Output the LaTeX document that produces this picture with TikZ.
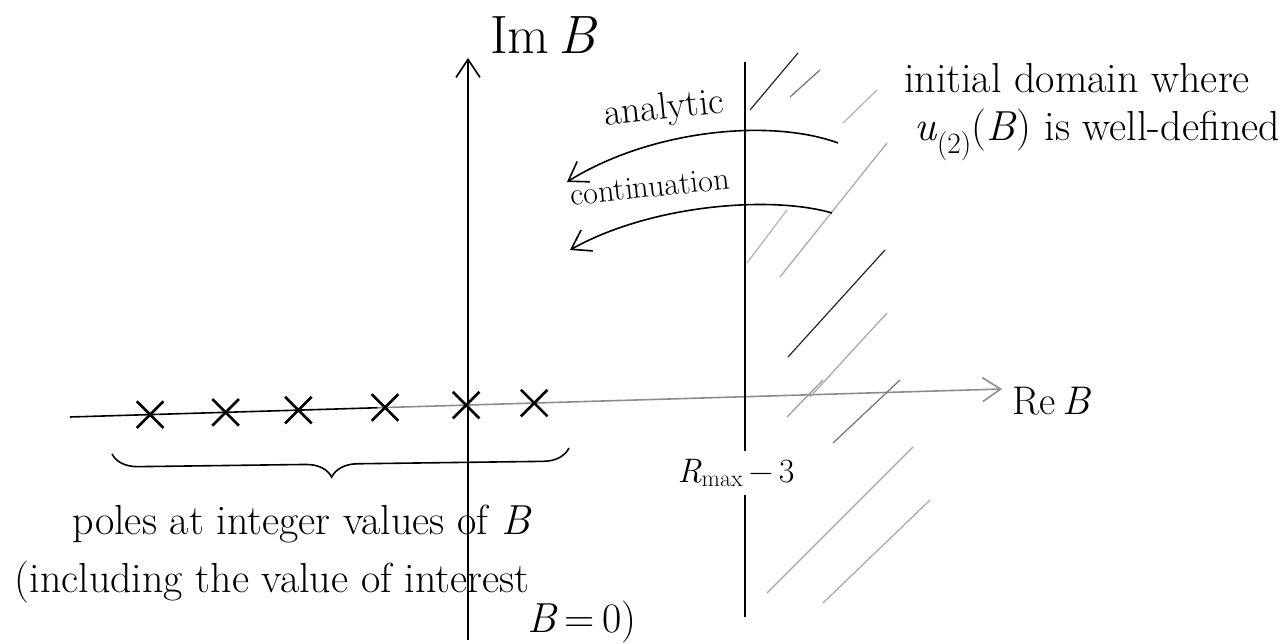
\documentclass[tikz,border=0pt]{standalone}
\usetikzlibrary{arrows.meta,shapes.misc,decorations.pathreplacing}
\tikzset{
  pen/.style={line width=1.6pt},
  barb/.style={-{Straight Barb[length=18pt,width=24pt,line width=1.6pt]}},
  pole/.style={cross out, draw, line width=2.6pt, minimum size=24pt, inner sep=0pt},
  hatch/.style={line width=1.2pt},
  hand/.style={font=\fontsize{42}{46}\selectfont, inner sep=0pt},
}
\newcommand{\vb}{\textit{B}}
\begin{document}
\begin{tikzpicture}[x=1pt,y=1pt]
\useasboundingbox (0,0) rectangle (1287,644);

% axes
\coordinate (imlo) at (468,4);
\coordinate (imhi) at (468,586);
\coordinate (relo) at (70,227);
\coordinate (rehi) at (1002,255);
\path (relo) -- (rehi) coordinate[pos=0.33] (remid);
\draw[pen,barb] (imlo) -- (imhi);
\draw[pen] (relo) -- (remid);
\draw[pen,black!45,barb] (remid) -- (rehi);
\node[hand,font=\fontsize{54}{58}\selectfont,anchor=west] (imlab) at (490,609) {Im\,\vb};
\node[hand,font=\fontsize{40}{44}\selectfont,anchor=west] (relab) at (1012,243) {Re\,\vb};

% poles on the real axis
\foreach \p [count=\i] in {0.086,0.167,0.245,0.338,0.425,0.498}
  \path (relo) -- (rehi) node[pole,pos=\p] (p\i) {};

% initial domain boundary
\coordinate (vtop) at (745,582);
\coordinate (vbot) at (745,27);
\node[hand,font=\fontsize{34}{38}\selectfont,inner sep=8pt] (rlab) at (736,171) {\textit{R}\textsubscript{max}\,−\,3};
\draw[pen] (vtop) -- (vtop |- rlab.north);
\draw[pen] (vbot) -- (vbot |- rlab.south);

% hatching
\foreach \xa/\ya/\xb/\yb/\s in {750/534/798/591/85, 790/547/820/574/55,
    843/521/877/554/30, 780/367/887/501/35, 747/381/787/434/30,
    788/287/885/394/85, 810/247/887/331/35, 787/227/823/264/40,
    833/201/900/264/55, 767/51/913/197/35, 823/41/930/144/35}
  \draw[hatch,black!\s] (\xa,\ya) -- (\xb,\yb);

% continuation arrows
\coordinate (a1s) at (838,501);
\coordinate (a1e) at (567,462);
\coordinate (a2s) at (832,431);
\coordinate (a2e) at (570,394);
\draw[pen,barb] (a1s) .. controls (770,526) and (650,514) .. (a1e);
\draw[pen,barb] (a2s) .. controls (770,449) and (650,439) .. (a2e);
\node[hand,font=\fontsize{38}{42}\selectfont,rotate=6] (ana) at (664,534) {analytic};
\node[hand,font=\fontsize{32}{36}\selectfont,rotate=6] (cont) at (650,457) {continuation};

% text on the right
\node[hand] (dom1) at (1077,566) {initial domain where};
\node[hand] (dom2) at (1097,509) {\textit{u}\textsubscript{(2)}(\vb) is well-defined};

% brace under the poles
\coordinate (bl) at (112,190);
\coordinate (br) at (569,196);
\draw[pen,decorate,decoration={brace,mirror,amplitude=26pt,aspect=0.48}] (bl) -- (br);
\node[hand] (poles) at (302,120) {poles at integer values of \vb};
\node[hand] (incl) at (272,62) {(including the value of interest};
\node[hand] (bzero) at (582,22) {\vb\,=\,0)};
\end{tikzpicture}
\end{document}
